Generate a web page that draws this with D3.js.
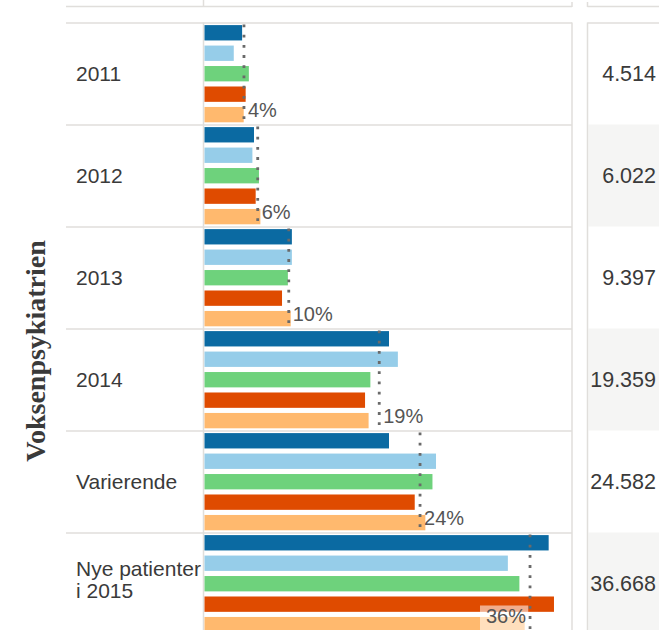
<!DOCTYPE html>
<html>
<head>
<meta charset="utf-8">
<title>Voksenpsykiatrien</title>
<script src="https://d3js.org/d3.v7.min.js"></script>
<style>
  body { margin: 0; background: #fff; }
  text { font-family: "Liberation Sans", Arial, sans-serif; }
</style>
</head>
<body>
<svg id="chart"></svg>
<script>
// categories (rows) and the five coloured series
var categories = ["2011", "2012", "2013", "2014", "Varierende", "Nye patienter i 2015"];
var seriesNames = ["s1", "s2", "s3", "s4", "s5"];
var s1 = [4.24, 5.58, 9.85, 20.8, 20.8, 38.8];
var s2 = [3.30, 5.40, 9.85, 21.8, 26.1, 34.2];
var s3 = [5.00, 6.14, 9.40, 18.7, 25.7, 35.5];
var s4 = [4.64, 5.77, 8.74, 18.1, 23.7, 39.4];
var s5 = [4.42, 6.30, 9.72, 18.5, 24.9, 36.1];
// reference (dotted) line per row and its label
var refValues = [4.45, 6.0, 9.5, 19.7, 24.3, 36.7];
var refLabels = ["4%", "6%", "10%", "19%", "24%", "36%"];
// right hand column
var totals = ["4.514", "6.022", "9.397", "19.359", "24.582", "36.668"];

var colors = ["#0b6aa2", "#96cde9", "#6ed27c", "#df4b00", "#ffb96e"];
var allSeries = [s1, s2, s3, s4, s5];

var W = 659, H = 630;
var svg = d3.select("#chart").attr("width", W).attr("height", H);

var gridColor = "#e0dedb";
var panelLeft = 66, panelRight = 572, rightCol = 587.5;
var top0 = 22.5, rowH = 102;

var x = d3.scaleLinear().domain([0, 40]).range([204.5, 559.3]);
var y = d3.scaleBand().domain(categories).range([top0, top0 + rowH * categories.length]);
var yInner = d3.scaleBand().domain(seriesNames).range([2.6, 99.8]).paddingInner(0.25);
var color = d3.scaleOrdinal().domain(seriesNames).range(colors);

// shaded rows of the right column
svg.selectAll(".shade")
  .data(categories.filter(function(d, i) { return i % 2 === 1; }))
  .enter().append("rect")
  .attr("x", rightCol + 1)
  .attr("y", function(d) { return y(d); })
  .attr("width", W - rightCol)
  .attr("height", rowH)
  .attr("fill", "#f5f5f4");

// header remnants
svg.append("line").attr("x1", panelLeft).attr("x2", panelRight).attr("y1", 6.5).attr("y2", 6.5)
  .attr("stroke", gridColor).attr("stroke-width", 1.5);
svg.append("line").attr("x1", panelRight).attr("x2", panelRight).attr("y1", 2).attr("y2", 7)
  .attr("stroke", gridColor).attr("stroke-width", 1.5);
svg.append("line").attr("x1", rightCol).attr("x2", W).attr("y1", 6.5).attr("y2", 6.5)
  .attr("stroke", gridColor).attr("stroke-width", 1.5);
svg.append("line").attr("x1", rightCol).attr("x2", rightCol).attr("y1", 2).attr("y2", 7)
  .attr("stroke", gridColor).attr("stroke-width", 1.5);
svg.append("line").attr("x1", x(0) - 1).attr("x2", x(0) - 1).attr("y1", 0).attr("y2", 7)
  .attr("stroke", gridColor).attr("stroke-width", 1.5);

// row separators
svg.selectAll(".sep")
  .data(categories)
  .enter().append("line")
  .attr("x1", panelLeft).attr("x2", panelRight)
  .attr("y1", function(d) { return y(d) + 0.5; })
  .attr("y2", function(d) { return y(d) + 0.5; })
  .attr("stroke", gridColor).attr("stroke-width", 1.5);

// panel borders
svg.append("line").attr("x1", panelRight).attr("x2", panelRight).attr("y1", top0).attr("y2", H)
  .attr("stroke", gridColor).attr("stroke-width", 1.5);
svg.append("line").attr("x1", rightCol).attr("x2", rightCol).attr("y1", top0).attr("y2", H)
  .attr("stroke", gridColor).attr("stroke-width", 1.5);
svg.append("line").attr("x1", rightCol).attr("x2", W).attr("y1", top0 + 0.5).attr("y2", top0 + 0.5)
  .attr("stroke", gridColor).attr("stroke-width", 1.5);
svg.append("line").attr("x1", x(0) - 1).attr("x2", x(0) - 1).attr("y1", top0).attr("y2", H)
  .attr("stroke", gridColor).attr("stroke-width", 1.5);

// bars
var rows = svg.selectAll(".row")
  .data(categories)
  .enter().append("g")
  .attr("class", "row")
  .attr("transform", function(d) { return "translate(0," + y(d) + ")"; });

rows.selectAll("rect.bar")
  .data(function(d, i) {
    return seriesNames.map(function(s, j) { return { key: s, value: allSeries[j][i] }; });
  })
  .enter().append("rect")
  .attr("class", "bar")
  .attr("x", x(0))
  .attr("y", function(d) { return yInner(d.key); })
  .attr("width", function(d) { return x(d.value) - x(0); })
  .attr("height", yInner.bandwidth())
  .attr("fill", function(d) { return color(d.key); });

// reference line and its label
rows.append("line")
  .attr("x1", function(d, i) { return x(refValues[i]); })
  .attr("x2", function(d, i) { return x(refValues[i]); })
  .attr("y1", 2)
  .attr("y2", rowH)
  .attr("stroke", "#6a6a6a")
  .attr("stroke-width", 2.8)
  .attr("stroke-dasharray", "2.8,7.4");

rows.each(function(d, i) {
  var g = d3.select(this);
  var rx = x(refValues[i]);
  var fits = rx + 45 < panelRight;
  var t = g.append("text")
    .attr("x", fits ? rx + 4 : rx - 4)
    .attr("y", fits ? 94 : 90)
    .attr("text-anchor", fits ? "start" : "end")
    .style("font-size", "20px")
    .attr("fill", "#555")
    .text(refLabels[i]);
  if (!fits) {
    var bb = t.node().getBBox();
    g.insert("rect", "text")
      .attr("x", bb.x - 6).attr("y", bb.y + 1)
      .attr("width", bb.width + 8).attr("height", bb.height + 6)
      .attr("fill", "#fff").attr("opacity", 0.55);
  }
});

// row labels
rows.each(function(d) {
  var words = d === "Nye patienter i 2015" ? ["Nye patienter", "i 2015"] : [d];
  var t = d3.select(this).append("text")
    .attr("x", 76)
    .attr("y", words.length > 1 ? 43 : rowH / 2 + 7)
    .style("font-size", "21px")
    .attr("fill", "#3a3a3a");
  words.forEach(function(w, k) {
    t.append("tspan").attr("x", 76).attr("dy", k === 0 ? 0 : 22).text(w);
  });
});

// right column numbers
rows.append("text")
  .attr("x", 656)
  .attr("y", rowH / 2 + 7)
  .attr("text-anchor", "end")
  .style("font-size", "21.5px")
  .attr("fill", "#3a3a3a")
  .text(function(d, i) { return totals[i]; });

// vertical group title
svg.append("text")
  .attr("transform", "translate(45,351) rotate(-90)")
  .attr("text-anchor", "middle")
  .style("font-family", "'Liberation Serif', 'Times New Roman', serif")
  .style("font-weight", "bold")
  .style("font-size", "28px")
  .attr("fill", "#3a3a3a")
  .text("Voksenpsykiatrien");
</script>
</body>
</html>
